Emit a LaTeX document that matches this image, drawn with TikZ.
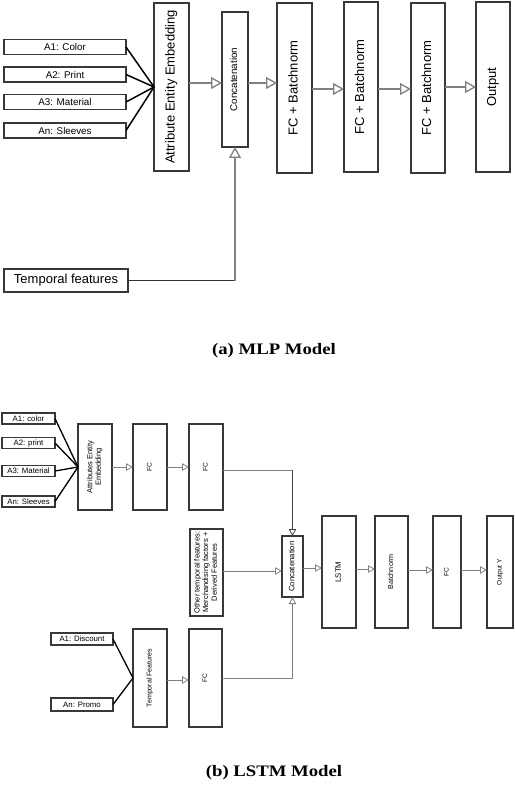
\documentclass[tikz,border=0pt]{standalone}
\usepackage{fontspec}
\usepackage{graphicx}
\newfontfamily\arialf{Liberation Sans}
\newfontfamily\capf[FakeStretch=1.17]{Liberation Serif}
\usetikzlibrary{arrows.meta}
\newcommand\vtext[1]{\rotatebox{90}{\begin{tabular}{@{}c@{}}#1\end{tabular}}}
\begin{document}
\begin{tikzpicture}[x=1pt,y=-1pt,
  box/.style={draw=black!78, fill=white, line width=1.3pt, inner sep=0pt, outer sep=0pt},
  sbox/.style={draw=black!78, fill=white, line width=1.1pt, inner sep=0pt, outer sep=0pt},
  fbig/.style={font=\arialf\fontsize{13}{15}\selectfont},
  fmid/.style={font=\arialf\fontsize{9.8}{11}\selectfont},
  fsm/.style={font=\arialf\fontsize{7.8}{9}\selectfont},
  ftiny/.style={font=\arialf\fontsize{6.6}{8}\selectfont},
  fan/.style={draw=black, line width=1.5pt},
  sfan/.style={draw=black, line width=1.3pt},
  bigarr/.style={draw=black!50, line width=1.3pt, -{Triangle[open, length=11pt, width=12pt]}},
  smarr/.style={draw=black!50, line width=0.8pt, -{Triangle[open, length=7pt, width=7.5pt]}},
  darkline/.style={draw=black!80, line width=1.2pt},
  captext/.style={font=\capf\fontsize{16}{18}\selectfont\bfseries}
]
\useasboundingbox (0,0) rectangle (514,786);

% ---------- (a) MLP ----------
\node[box, fmid, minimum width=122pt, minimum height=15pt] (a1) at (65,47) {A1: Color};
\node[box, fmid, minimum width=122pt, minimum height=15pt] (a2) at (65,74.5) {A2: Print};
\node[box, fmid, minimum width=122pt, minimum height=15pt] (a3) at (65,102) {A3: Material};
\node[box, fmid, minimum width=122pt, minimum height=15pt] (a4) at (65,130.5) {An: Sleeves};
\node[box, fbig, minimum width=35pt, minimum height=168pt] (aee) at (171.5,87) {\vtext{Attribute Entity Embedding}};
\node[box, fmid, minimum width=26pt, minimum height=135pt] (concat) at (235,79.5) {\vtext{Concatenation}};
\node[box, fbig, minimum width=35pt, minimum height=170pt] (fc1) at (294.5,88) {\vtext{FC + Batchnorm}};
\node[box, fbig, minimum width=34pt, minimum height=170pt] (fc2) at (361,87) {\vtext{FC + Batchnorm}};
\node[box, fbig, minimum width=34pt, minimum height=170pt] (fc3) at (428,88) {\vtext{FC + Batchnorm}};
\node[box, fbig, minimum width=34pt, minimum height=170pt] (out) at (493,87) {\vtext{Output}};
\node[box, fbig, minimum width=124pt, minimum height=23pt] (temp) at (66,280.5) {Temporal features};

\foreach \n in {a1,a2,a3,a4} \draw[fan] (\n.east) -- (aee.west);
\coordinate (ya) at (0,83);
\coordinate (yb) at (0,89);
\coordinate (yc) at (0,87);
\draw[bigarr] (aee.east |- ya) -- (concat.west |- ya);
\draw[bigarr] (concat.east |- ya) -- (fc1.west |- ya);
\draw[bigarr] (fc1.east |- yb) -- (fc2.west |- yb);
\draw[bigarr] (fc2.east |- yb) -- (fc3.west |- yb);
\draw[bigarr] (fc3.east |- yc) -- (out.west |- yc);
\coordinate (tc) at (concat.south |- temp.east);
\draw[darkline] (temp.east) -- (tc);
\draw[bigarr] (tc) -- (concat.south);

\node[captext] (capa) at (274,351) {(a) MLP Model};

% ---------- (b) LSTM ----------
\node[sbox, fsm, minimum width=53pt, minimum height=11pt] (b1) at (28.5,418.5) {A1: color};
\node[sbox, fsm, minimum width=53pt, minimum height=11pt] (b2) at (28.5,443) {A2: print};
\node[sbox, fsm, minimum width=53pt, minimum height=11pt] (b3) at (28.5,471) {A3: Material};
\node[sbox, fsm, minimum width=53pt, minimum height=11pt] (b4) at (28.5,501.5) {An: Sleeves};
\node[sbox, font=\arialf\fontsize{7.5}{8.5}\selectfont, minimum width=34pt, minimum height=86pt] (baee) at (95,467) {\vtext{Attributes Entity\\Embedding}};
\node[sbox, ftiny, minimum width=34pt, minimum height=86pt] (bfc1) at (150,467) {\vtext{FC}};
\node[sbox, ftiny, minimum width=34pt, minimum height=86pt] (bfc2) at (206,467) {\vtext{FC}};
\node[sbox, font=\arialf\fontsize{7.5}{8.6}\selectfont, minimum width=33pt, minimum height=87pt] (other) at (206.5,572.5) {\vtext{Other temporal features:\\Merchandising factors +\\Derived Features}};
\node[sbox, fsm, minimum width=21pt, minimum height=61pt] (bcat) at (292.5,566.5) {\vtext{Concatenation}};
\node[sbox, fsm, minimum width=34pt, minimum height=112pt] (lstm) at (339,572) {\vtext{LSTM}};
\node[sbox, font=\arialf\fontsize{7.2}{8.5}\selectfont, minimum width=33pt, minimum height=112pt] (bn) at (391.5,572) {\vtext{Batchnorm}};
\node[sbox, ftiny, minimum width=28pt, minimum height=112pt] (bfc3) at (447,572) {\vtext{FC}};
\node[sbox, ftiny, minimum width=26pt, minimum height=112pt] (outy) at (500,572) {\vtext{Output Y}};
\node[sbox, fsm, minimum width=62pt, minimum height=12pt] (c1) at (82,639) {A1: Discount};
\node[sbox, fsm, minimum width=62pt, minimum height=13pt] (c2) at (82,704.5) {An: Promo};
\node[sbox, font=\arialf\fontsize{7}{8.5}\selectfont, minimum width=34pt, minimum height=98pt] (btemp) at (150,678) {\vtext{Temporal Features}};
\node[sbox, ftiny, minimum width=33pt, minimum height=98pt] (bfc4) at (205.5,678) {\vtext{FC}};

\foreach \n in {b1,b2,b3,b4} \draw[sfan] (\n.east) -- (baee.west);
\foreach \n in {c1,c2} \draw[sfan] (\n.east) -- (btemp.west);
\coordinate (yd) at (0,467);
\coordinate (ye) at (0,470);
\coordinate (yf) at (0,571);
\coordinate (yg) at (0,568);
\coordinate (yh) at (0,569);
\coordinate (yi) at (0,570);
\coordinate (yj) at (0,680);
\coordinate (yk) at (0,678);
\draw[smarr] (baee.east |- yd) -- (bfc1.west |- yd);
\draw[smarr] (bfc1.east |- yd) -- (bfc2.west |- yd);
\coordinate (ct) at (bcat.north |- ye);
\draw[draw=black!50, line width=0.8pt] (bfc2.east |- ye) -- (ct);
\draw[smarr, draw=black!75] (ct) -- (bcat.north);
\draw[smarr] (other.east |- yf) -- (bcat.west |- yf);
\draw[smarr] (bcat.east |- yg) -- (lstm.west |- yg);
\draw[smarr] (lstm.east |- yh) -- (bn.west |- yh);
\draw[smarr] (bn.east |- yi) -- (bfc3.west |- yi);
\draw[smarr] (bfc3.east |- yi) -- (outy.west |- yi);
\draw[smarr] (btemp.east |- yj) -- (bfc4.west |- yj);
\coordinate (cb) at (bcat.south |- yk);
\draw[draw=black!50, line width=0.8pt] (bfc4.east |- yk) -- (cb);
\draw[smarr] (cb) -- (bcat.south);

\node[captext] (capb) at (274,773) {(b) LSTM Model};
\end{tikzpicture}
\end{document}
